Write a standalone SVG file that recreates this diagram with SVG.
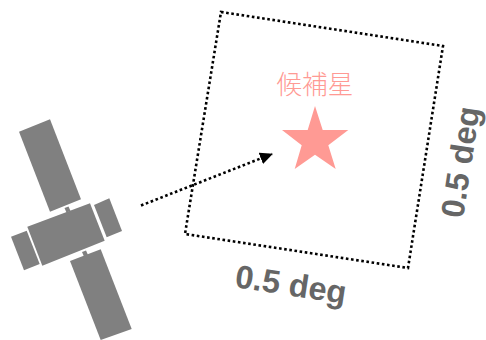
<svg xmlns="http://www.w3.org/2000/svg" width="486" height="340" viewBox="0 0 486 340">
<style>
.sat{fill:#808080}
.dot{fill:none;stroke:#000;stroke-width:2.6;stroke-dasharray:2.6 2.6}
.lbl{font-family:"Liberation Sans",Arial,sans-serif;font-weight:bold;font-size:32.5px;fill:#666}
.cjk{font-family:"Noto Sans CJK JP","Noto Sans CJK SC",sans-serif;font-size:25.6px;fill:#ff9a94;font-weight:300}
</style>
<defs><marker id="ah" markerUnits="userSpaceOnUse" markerWidth="14" markerHeight="14" refX="12" refY="6" orient="auto"><path d="M0 0L13 6L0 12Z" fill="#000"/></marker></defs>
<rect width="486" height="340" fill="#fff"/>
<g id="satellite">
<polygon class="sat" points="19,131.7 50,119.3 81,199.3 50,211.7"/>
<polygon class="sat" points="27.3,226.7 90,203.3 104.7,240.7 42.3,265.7"/>
<polygon class="sat" points="94,205 109.3,198.3 122,231 106.7,237.3"/>
<polygon class="sat" points="11,236.7 26.7,230.7 39.7,264 24,270.3"/>
<polygon class="sat" points="70,261 100.7,249.3 131.7,329 100.7,340"/>
<polygon class="sat" points="64.5,208 68.5,206.5 70.5,211 66.5,212.5"/>
<polygon class="sat" points="82,252 86,250.5 88,255 84,256.5"/>
</g>
<g id="field"><polygon class="dot" points="221,12 443,46 408,268 185,234"/></g>
<g id="star"><polygon points="315,106 322.7,130 348.3,130 328.3,145.3 335.7,169 315,154.7 294.7,169 301.7,145.3 282,130 307.7,130" fill="#ff9a94"/>
<text class="cjk" x="276.5" y="94">候補星</text></g>
<g id="connectors"><path class="dot" d="M141 205.5L272 154" marker-end="url(#ah)"/></g>
<g id="labels">
<text class="lbl" transform="translate(234 287) rotate(8.7)">0.5 deg</text>
<text class="lbl" transform="translate(463 219) rotate(-81.3)">0.5 deg</text>
</g>
</svg>
